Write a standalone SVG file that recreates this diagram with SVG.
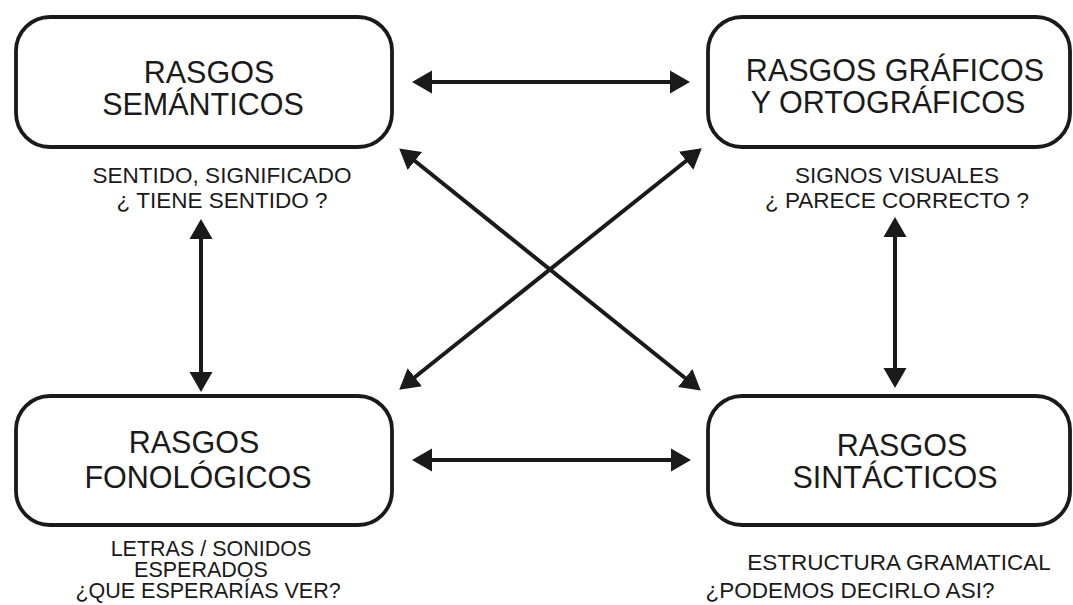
<svg xmlns="http://www.w3.org/2000/svg" width="1073" height="605" viewBox="0 0 1073 605">
<defs>
<style>
.box{fill:#fff;stroke:#1a1a1a;stroke-width:3.8}
.t{font-family:"Liberation Sans",Arial,sans-serif;font-size:30.5px;fill:#1a1a1a;text-anchor:middle}
.s{font-family:"Liberation Sans",Arial,sans-serif;font-size:22.5px;fill:#1a1a1a;text-anchor:middle}
.s2{font-family:"Liberation Sans",Arial,sans-serif;font-size:21.5px;fill:#1a1a1a;text-anchor:middle}
.c{stroke:#1a1a1a;stroke-width:4;fill:none;marker-start:url(#ah);marker-end:url(#ah)}
</style>
<marker id="ah" markerUnits="userSpaceOnUse" markerWidth="20" markerHeight="24" viewBox="0 0 20 24" refX="9" refY="12" orient="auto-start-reverse">
<path d="M0,0.5 L20,12 L0,23.5 z" fill="#1a1a1a"/>
</marker>
</defs>
<rect width="1073" height="605" fill="#fff"/>
<g id="connectors">
<line class="c" x1="423" y1="82" x2="679" y2="82"/>
<line class="c" x1="423" y1="460" x2="680" y2="460"/>
<line class="c" x1="201" y1="230" x2="201" y2="381"/>
<line class="c" x1="895" y1="228" x2="895" y2="377"/>
<line class="c" x1="407.8" y1="155.3" x2="692.2" y2="383.7"/>
<line class="c" x1="693.2" y1="155.2" x2="407.8" y2="382.8"/>
</g>
<g id="semanticos">
<rect class="box" x="16" y="17" width="376" height="130" rx="34"/>
<text class="t" x="209" y="83">RASGOS</text>
<text class="t" x="203" y="115">SEMÁNTICOS</text>
<text class="s" x="222" y="183">SENTIDO, SIGNIFICADO</text>
<text class="s" x="222" y="208">¿ TIENE SENTIDO ?</text>
</g>
<g id="graficos">
<rect class="box" x="708" y="17" width="362" height="130" rx="34"/>
<text class="t" x="895" y="81">RASGOS GRÁFICOS</text>
<text class="t" x="888" y="113">Y ORTOGRÁFICOS</text>
<text class="s" x="897" y="183">SIGNOS VISUALES</text>
<text class="s" x="897" y="208">¿ PARECE CORRECTO ?</text>
</g>
<g id="fonologicos">
<rect class="box" x="16" y="396" width="376" height="129" rx="34"/>
<text class="t" x="194" y="453">RASGOS</text>
<text class="t" x="198" y="488">FONOLÓGICOS</text>
<text class="s2" x="211" y="556">LETRAS / SONIDOS</text>
<text class="s2" x="201" y="577">ESPERADOS</text>
<text class="s2" x="208" y="598">¿QUE ESPERARÍAS VER?</text>
</g>
<g id="sintacticos">
<rect class="box" x="708" y="396" width="362" height="129" rx="34"/>
<text class="t" x="902" y="456">RASGOS</text>
<text class="t" x="895" y="488">SINTÁCTICOS</text>
<text class="s" x="899" y="570">ESTRUCTURA GRAMATICAL</text>
<text class="s" x="850" y="598">¿PODEMOS DECIRLO ASI?</text>
</g>
</svg>
